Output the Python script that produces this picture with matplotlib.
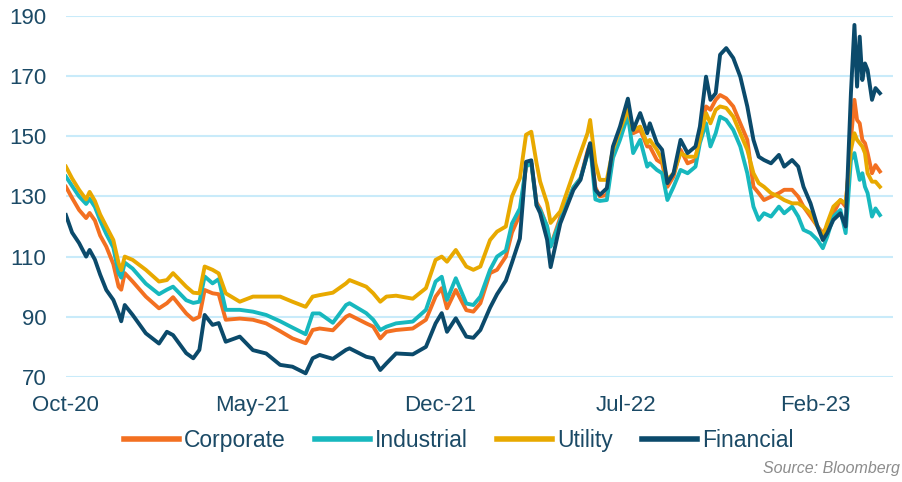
import matplotlib
matplotlib.use("Agg")
import matplotlib.pyplot as plt
import pandas as pd

plt.rcParams['font.family'] = ['Liberation Sans', 'DejaVu Sans']

dates = [
    "2020-10-01", "2020-10-08", "2020-10-16", "2020-10-24", "2020-10-28", "2020-11-03",
    "2020-11-09", "2020-11-16", "2020-11-24", "2020-11-30", "2020-12-03", "2020-12-07",
    "2020-12-16", "2020-12-31", "2021-01-15", "2021-01-24", "2021-01-31", "2021-02-15",
    "2021-02-23", "2021-03-02", "2021-03-08", "2021-03-17", "2021-03-24", "2021-04-01",
    "2021-04-17", "2021-05-02", "2021-05-17", "2021-06-02", "2021-06-16", "2021-07-01",
    "2021-07-09", "2021-07-17", "2021-08-01", "2021-08-16", "2021-08-20", "2021-09-08",
    "2021-09-16", "2021-09-24", "2021-10-01", "2021-10-12", "2021-10-31", "2021-11-15",
    "2021-11-26", "2021-12-03", "2021-12-09", "2021-12-19", "2021-12-31", "2022-01-08",
    "2022-01-16", "2022-01-27", "2022-02-04", "2022-02-14", "2022-02-21", "2022-03-02",
    "2022-03-09", "2022-03-15", "2022-03-21", "2022-03-25", "2022-04-02", "2022-04-06",
    "2022-04-17", "2022-05-02", "2022-05-10", "2022-05-18", "2022-05-21", "2022-05-27",
    "2022-06-01", "2022-06-09", "2022-06-16", "2022-06-24", "2022-07-03", "2022-07-09",
    "2022-07-17", "2022-07-25", "2022-07-28", "2022-08-05", "2022-08-11", "2022-08-17",
    "2022-08-24", "2022-09-01", "2022-09-09", "2022-09-18", "2022-09-23", "2022-09-30",
    "2022-10-05", "2022-10-11", "2022-10-16", "2022-10-23", "2022-10-31", "2022-11-08",
    "2022-11-16", "2022-11-23", "2022-11-29", "2022-12-05", "2022-12-13", "2022-12-22",
    "2022-12-28", "2023-01-06", "2023-01-13", "2023-01-19", "2023-01-27", "2023-02-04",
    "2023-02-10", "2023-02-15", "2023-02-22", "2023-03-02", "2023-03-08", "2023-03-14",
    "2023-03-18", "2023-03-21", "2023-03-24", "2023-03-27", "2023-03-30", "2023-04-02",
    "2023-04-07", "2023-04-11", "2023-04-16",
]

corporate = [
    133.2, 129.5, 125.5, 122.8, 124.5, 122.0, 117.0, 113.3, 107.5, 100.0, 99.0, 104.5,
    101.7, 96.7, 92.8, 94.5, 96.5, 91.1, 89.0, 90.0, 98.9, 97.8, 97.5, 89.0,
    89.4, 89.0, 87.8, 85.2, 82.8, 81.2, 85.6, 86.1, 85.5, 90.0, 90.6, 87.8,
    86.7, 82.8, 85.0, 85.6, 86.1, 89.0, 96.7, 99.5, 92.8, 98.9, 92.2, 91.7,
    94.5, 104.5, 105.6, 110.0, 118.0, 124.0, 140.0, 141.0, 128.0, 126.0, 120.0, 113.5,
    123.0, 133.0, 136.0, 145.0, 147.5, 133.0, 130.0, 130.5, 143.9, 151.0, 160.0, 151.0,
    152.1, 146.6, 146.6, 142.1, 141.0, 133.2, 136.6, 145.5, 141.0, 142.1, 151.0, 159.9,
    158.8, 162.1, 163.7, 162.6, 159.9, 154.3, 148.8, 133.2, 131.1, 128.8, 129.9, 131.1,
    132.2, 132.2, 129.9, 126.6, 123.3, 120.0, 117.8, 120.0, 124.4, 128.8, 126.6, 148.8,
    162.1, 155.4, 154.3, 148.8, 147.7, 144.4, 137.7, 140.4, 138.3,
]

industrial = [
    136.6, 133.5, 130.0, 127.5, 129.2, 126.5, 122.0, 117.5, 113.0, 104.5, 103.0, 108.0,
    106.0, 101.0, 97.5, 99.0, 100.0, 95.5, 94.6, 95.0, 103.4, 101.1, 102.5, 92.3,
    92.3, 91.7, 90.6, 88.5, 86.4, 84.2, 91.1, 91.1, 88.0, 93.9, 94.5, 91.2,
    89.0, 85.6, 86.7, 87.8, 88.4, 92.3, 101.7, 103.3, 95.6, 102.8, 94.4, 93.9,
    96.7, 105.6, 110.0, 112.0, 121.0, 126.0, 140.0, 141.0, 127.0, 125.5, 120.0, 113.3,
    122.0, 133.0, 136.0, 143.9, 147.0, 129.0, 128.5, 128.8, 142.8, 148.8, 157.0, 144.4,
    148.8, 139.9, 141.0, 138.8, 137.7, 128.8, 133.2, 138.8, 137.7, 139.9, 147.7, 154.3,
    146.6, 151.0, 156.5, 155.4, 152.1, 146.6, 137.7, 126.6, 122.2, 124.4, 123.3, 126.6,
    124.4, 126.6, 123.3, 118.9, 117.8, 115.5, 112.8, 116.6, 123.3, 125.5, 117.8, 142.1,
    144.4, 139.9, 135.5, 137.7, 133.2, 131.1, 123.3, 126.0, 123.8,
]

utility = [
    139.9, 136.0, 132.2, 129.0, 131.5, 128.5, 124.0, 120.0, 115.5, 107.8, 105.5, 110.0,
    108.9, 105.6, 101.7, 102.2, 104.5, 100.0, 98.0, 97.8, 106.7, 105.6, 104.4, 97.8,
    95.0, 96.7, 96.7, 96.7, 95.0, 93.3, 96.7, 97.2, 98.0, 101.1, 102.2, 100.0,
    97.8, 95.0, 96.7, 97.0, 96.0, 99.5, 108.9, 110.0, 108.3, 112.2, 106.7, 105.6,
    106.7, 115.5, 118.3, 120.0, 130.0, 136.0, 150.5, 151.5, 141.0, 135.0, 127.7, 121.2,
    125.0, 137.7, 144.4, 151.0, 155.4, 141.0, 135.5, 135.5, 145.5, 152.1, 158.8, 152.1,
    153.2, 147.7, 148.8, 145.5, 142.1, 135.5, 137.7, 144.4, 143.2, 143.2, 148.8, 157.7,
    154.3, 158.8, 159.9, 159.4, 156.5, 151.0, 145.5, 137.7, 134.4, 133.2, 131.1, 129.9,
    128.8, 127.7, 127.7, 126.6, 124.4, 120.0, 116.6, 121.1, 126.6, 128.8, 127.7, 145.5,
    151.0, 148.8, 147.7, 146.6, 144.4, 137.7, 134.9, 134.9, 133.2,
]

financial = [
    123.8, 118.0, 114.5, 110.0, 112.2, 109.0, 104.0, 98.9, 95.6, 91.2, 88.5, 93.9,
    90.6, 84.5, 81.1, 85.0, 83.9, 77.9, 76.2, 79.0, 90.6, 87.3, 87.9, 81.7,
    83.4, 78.9, 77.8, 74.0, 73.4, 71.2, 76.2, 77.3, 76.0, 79.0, 79.5, 76.7,
    76.2, 72.3, 74.5, 77.8, 77.5, 80.0, 87.8, 91.2, 85.0, 89.5, 83.4, 83.0,
    85.6, 93.0, 97.5, 102.0, 108.0, 116.0, 141.5, 142.0, 127.0, 124.5, 115.6, 106.5,
    121.0, 132.2, 135.5, 144.4, 147.7, 132.2, 130.5, 132.7, 146.6, 153.2, 162.5, 152.1,
    157.7, 151.0, 154.3, 147.7, 145.5, 134.4, 137.7, 148.8, 144.4, 146.6, 153.2, 169.8,
    162.1, 164.3, 177.1, 179.3, 176.0, 169.8, 159.9, 148.8, 143.2, 142.1, 141.0, 143.8,
    139.9, 142.1, 139.9, 133.2, 127.7, 120.0, 115.5, 117.8, 122.2, 124.4, 120.0, 164.3,
    187.0, 166.5, 183.1, 168.7, 174.2, 172.0, 162.1, 166.0, 164.3,
]

labels = ["Corporate", "Industrial", "Utility", "Financial"]
colors = ["#f37021", "#17b8be", "#e8a900", "#0b4a6b"]
tick_dates = ["2020-10-01", "2021-05-01", "2021-12-01", "2022-07-01", "2023-02-01"]
tick_labels = ["Oct-20", "May-21", "Dec-21", "Jul-22", "Feb-23"]

x = pd.to_datetime(dates)
fig = plt.figure(figsize=(9.03, 4.82), dpi=100)
ax = fig.add_axes([0.073, 0.218, 0.916, 0.749])

for series, name, col in zip([corporate, industrial, utility, financial], labels, colors):
    ax.plot(x, series, color=col, lw=2.8, label=name, solid_joinstyle="round")

ax.set_ylim(70, 190)
ax.set_yticks(range(70, 191, 20))
ax.set_xlim(pd.Timestamp("2020-10-01"), pd.Timestamp("2023-05-01"))
ax.set_xticks(pd.to_datetime(tick_dates))
ax.set_xticklabels(tick_labels)

ax.grid(axis="y", color="#c9ebfa", lw=1.5)
ax.set_axisbelow(True)
for s in ax.spines.values():
    s.set_visible(False)
ax.tick_params(length=0, labelsize=16, colors="#1b4a66")
ax.tick_params(axis="x", pad=13)
ax.tick_params(axis="y", pad=14)

leg = fig.legend(loc="center", bbox_to_anchor=(0.508, 0.086), ncol=4, frameon=False,
                 fontsize=16.5, handlelength=2.4, handletextpad=0.2, columnspacing=1.3,
                 labelcolor="#1b4a66")
for line in leg.get_lines():
    line.set_linewidth(4)
fig.text(0.997, 0.028, "Source: Bloomberg", ha="right", va="center",
         fontsize=11.5, style="italic", color="#8c8c8c")

fig.savefig("out.png", dpi=100)
